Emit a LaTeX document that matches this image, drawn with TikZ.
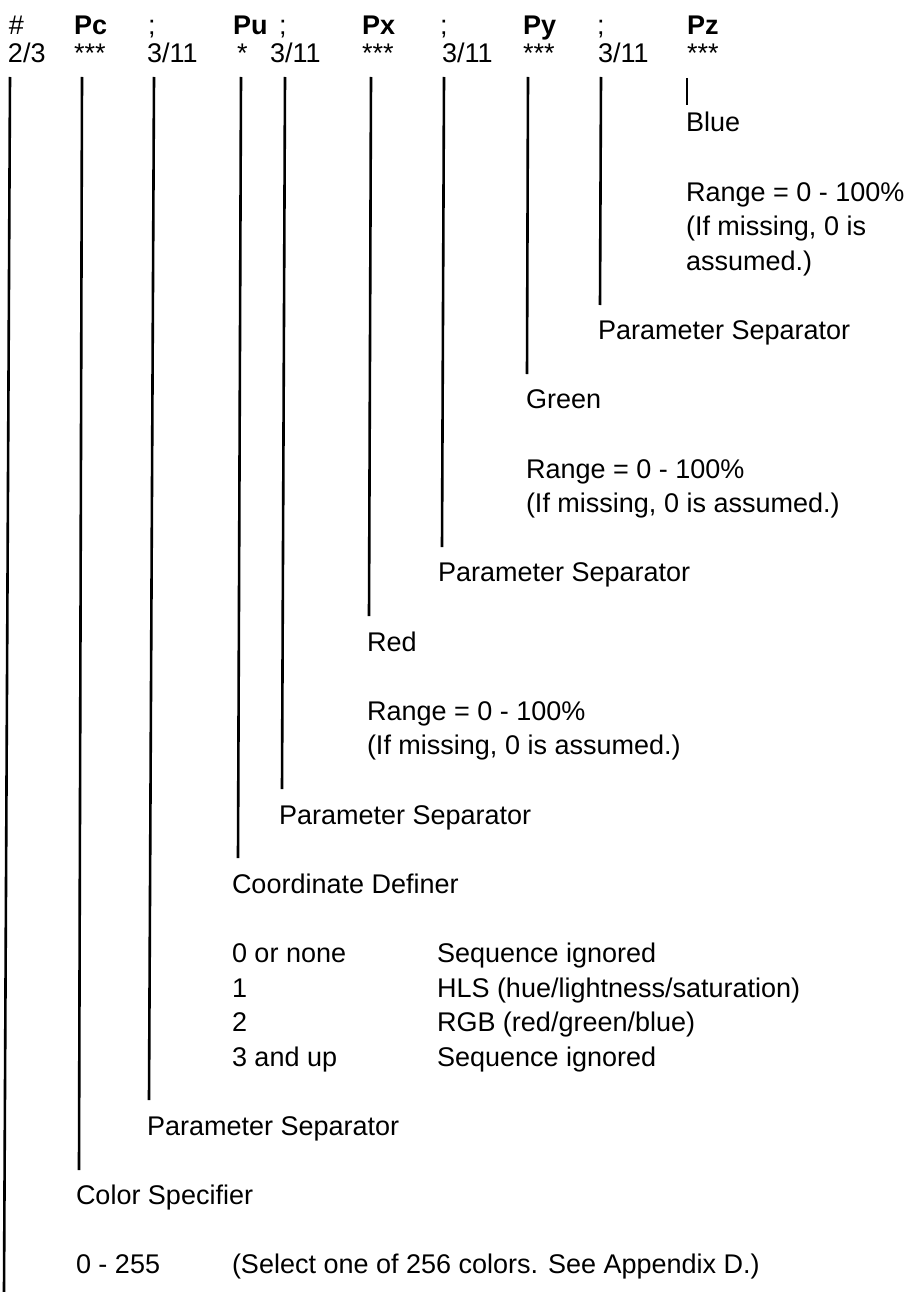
\documentclass[tikz,border=0pt]{standalone}
\usepackage{fontspec}
\setmainfont{Liberation Sans}
\newcommand\txtfont{\fontsize{27}{34.6}\selectfont}
\newcommand\hdrbold{\fontsize{27}{34.6}\selectfont\bfseries}
\begin{document}
\begin{tikzpicture}[x=1pt,y=-1pt,
  lbl/.style={anchor=base west,inner sep=0pt,outer sep=0pt,font=\txtfont},
  hdr/.style={lbl,font=\hdrbold},
  lead/.style={line width=2.6pt,black}]
\useasboundingbox[fill=white] (0,0) rectangle (916,1292);

% ---- header: sequence and its code values
\node[lbl] (hHash) at (9,35)   {\#};
\node[hdr] (hPc)   at (74,35)  {Pc};
\node[lbl] (hS1)   at (148,35) {;};
\node[hdr] (hPu)   at (233,35) {Pu};
\node[lbl] (hS2)   at (279,35) {;};
\node[hdr] (hPx)   at (362,35) {Px};
\node[lbl] (hS3)   at (440,35) {;};
\node[hdr] (hPy)   at (523,35) {Py};
\node[lbl] (hS4)   at (597,35) {;};
\node[hdr] (hPz)   at (687,35) {Pz};

\node[lbl] (cHash) at (8,63)   {2/3};
\node[lbl] (cPc)   at (74,63)  {***};
\node[lbl] (cS1)   at (147,63) {3/11};
\node[lbl] (cPu)   at (237,63) {*};
\node[lbl] (cS2)   at (270,63) {3/11};
\node[lbl] (cPx)   at (362,63) {***};
\node[lbl] (cS3)   at (442,63) {3/11};
\node[lbl] (cPy)   at (523,63) {***};
\node[lbl] (cS4)   at (598,63) {3/11};
\node[lbl] (cPz)   at (687,63) {***};

% ---- descriptions
\node[lbl] (blue)    at (686,132)   {Blue};
\node[lbl] (blueR)   at (686,201)   {Range = 0 - 100\%};
\node[lbl] (blueM1)  at (686,235.8) {(If missing, 0 is};
\node[lbl] (blueM2)  at (686,270.4) {assumed.)};

\node[lbl] (sep4)    at (598,339.6) {Parameter Separator};

\node[lbl] (green)   at (526,408.8) {Green};
\node[lbl] (greenR)  at (526,478)   {Range = 0 - 100\%};
\node[lbl] (greenM)  at (526,512.6) {(If missing, 0 is assumed.)};

\node[lbl] (sep3)    at (438,581.8) {Parameter Separator};

\node[lbl] (red)     at (367,651)   {Red};
\node[lbl] (redR)    at (367,720.2) {Range = 0 - 100\%};
\node[lbl] (redM)    at (367,754.8) {(If missing, 0 is assumed.)};

\node[lbl] (sep2)    at (279,824)   {Parameter Separator};

\node[lbl] (coord)   at (232,893.2) {Coordinate Definer};
\node[lbl] (k0)      at (232,962.4) {0 or none};
\node[lbl] (v0)      at (437,962.4) {Sequence ignored};
\node[lbl] (k1)      at (232,997)   {1};
\node[lbl] (v1)      at (437,997)   {HLS (hue/lightness/saturation)};
\node[lbl] (k2)      at (232,1031.6){2};
\node[lbl] (v2)      at (437,1031.6){RGB (red/green/blue)};
\node[lbl] (k3)      at (232,1066.2){3 and up};
\node[lbl] (v3)      at (437,1066.2){Sequence ignored};

\node[lbl] (sep1)    at (147,1135.4){Parameter Separator};

\node[lbl] (color)   at (76,1204.6) {Color Specifier};
\node[lbl] (cRange)  at (76,1273.8) {0 - 255};
\node[lbl] (cNote)   at (232,1273.8){(Select one of 256 colors. See Appendix D.)};

% ---- leader lines from each field down to its description
\coordinate (tHash) at (10,77);  \coordinate (bHash) at (4,1292);
\coordinate (tPc)   at (82,77);  \coordinate (bPc)   at (79,1170);
\coordinate (tS1)   at (154,77); \coordinate (bS1)   at (149,1100);
\coordinate (tPu)   at (241,77); \coordinate (bPu)   at (238,858);
\coordinate (tS2)   at (285,77); \coordinate (bS2)   at (282,789);
\coordinate (tPx)   at (371,77); \coordinate (bPx)   at (369,616);
\coordinate (tS3)   at (444,77); \coordinate (bS3)   at (442,547);
\coordinate (tPy)   at (528,77); \coordinate (bPy)   at (527,374);
\coordinate (tS4)   at (601,77); \coordinate (bS4)   at (600,305);
\coordinate (tPz)   at (687,78); \coordinate (bPz)   at (687,105);

\foreach \f in {Hash,Pc,S1,Pu,S2,Px,S3,Py,S4,Pz}
  \draw[lead] (t\f) -- (b\f);
\end{tikzpicture}
\end{document}
